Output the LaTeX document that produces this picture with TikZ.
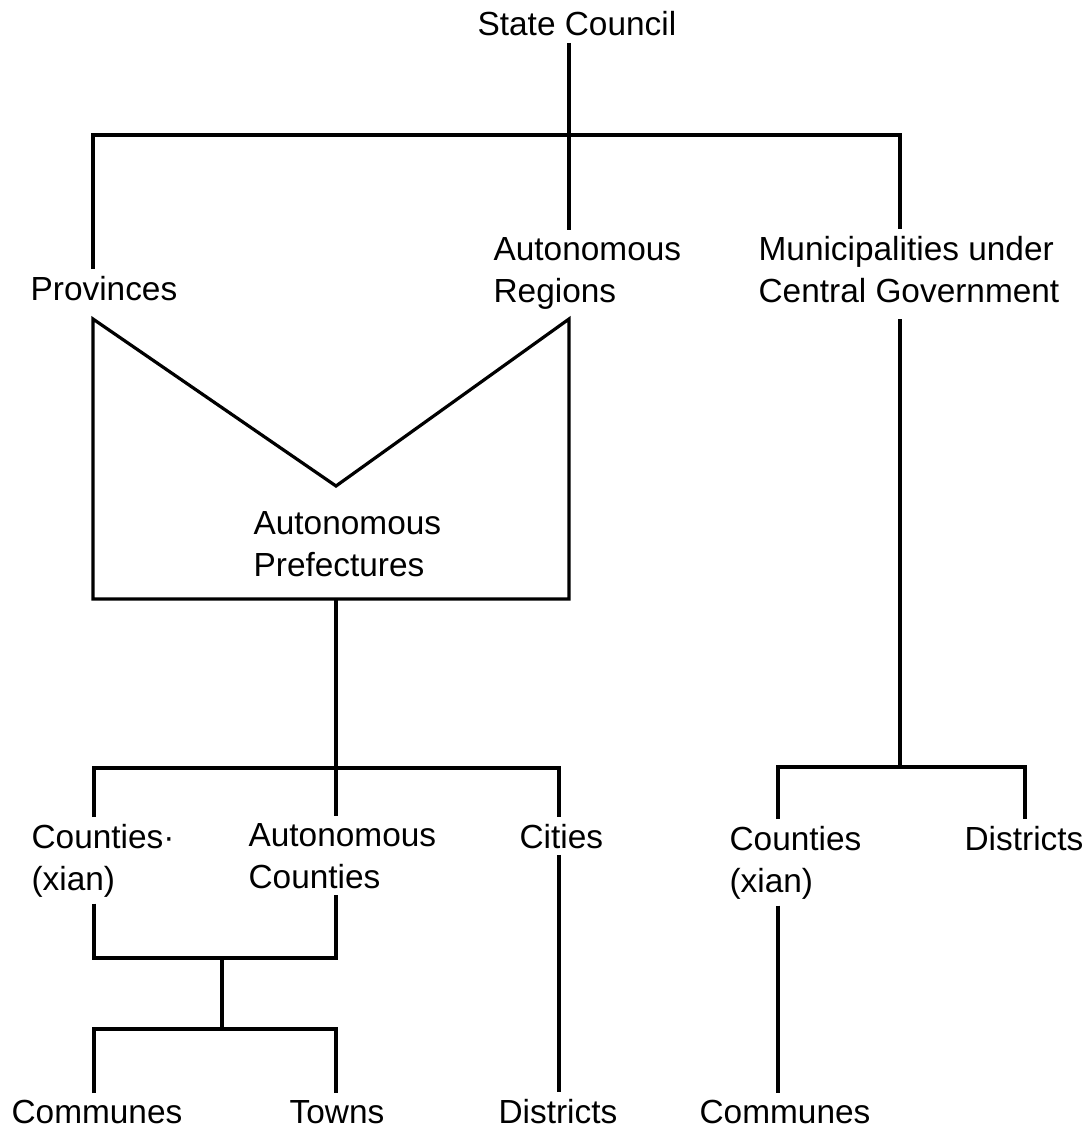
\documentclass[tikz,border=0pt]{standalone}
\usepackage{fontspec}
\setmainfont{Liberation Sans}
\usetikzlibrary{calc}

\begin{document}
\begin{tikzpicture}[x=0.5pt, y=-0.5pt, line width=1.6pt,
  every node/.style={font=\fontsize{16.7}{21}\selectfont, inner xsep=0pt, inner ysep=2.5pt, align=left, anchor=base west}]
  \useasboundingbox (0,0) rectangle (1090,1134);

  \node (sc) at (476,36) {State Council};
  \node (prov) at (29,300) {Provinces};
  \node (ar) at (492,302) {Autonomous\\Regions};
  \node (mun) at (757,302) {Municipalities under\\Central Government};

  \coordinate (top) at (569,135);
  \coordinate (left) at (93,135);
  \coordinate (right) at (900,135);

  \draw (sc.south -| top) -- (top);
  \draw (left |- prov.north) -- (left) -- (right) -- (right |- mun.north);
  \draw (top) -- (top |- ar.north);

  \coordinate (bTL) at (93,319);
  \coordinate (bTR) at (569,319);
  \coordinate (bBL) at (93,599);
  \coordinate (bBR) at (569,599);
  \coordinate (apex) at (336,486);
  \draw (bTL) -- (apex) -- (bTR) -- (bBR) -- (bBL) -- cycle;
  \node (ap) at (252,576) {Autonomous\\Prefectures};

  \coordinate (boxbot) at (336,599);
  \coordinate (mid) at (336,768);
  \coordinate (midL) at (94,768);
  \coordinate (midR) at (559,768);

  \node (cty) at (30,890) {Counties·\\(xian)};
  \node (acty) at (247,888) {Autonomous\\Counties};
  \node (cit) at (518,848) {Cities};

  \draw (boxbot) -- (mid);
  \draw (midL |- cty.north) -- (midL) -- (midR) -- (midR |- cit.north);
  \draw (mid) -- (mid |- acty.north);

  \coordinate (jc) at (222,958);
  \coordinate (jd) at (222,1029);

  \node (com) at (10,1123) {Communes};
  \node (town) at (288,1123) {Towns};
  \node (dis) at (497,1123) {Districts};

  \draw (midL |- cty.south) -- (midL |- jc) -- (mid |- jc) -- (mid |- acty.south);
  \draw (jc) -- (jd);
  \draw (midL |- com.north) -- (midL |- jd) -- (mid |- jd) -- (mid |- town.north);
  \draw (midR |- cit.south) -- (midR |- dis.north);

  \coordinate (rmid) at (900,767);
  \coordinate (rL) at (778,767);
  \coordinate (rR) at (1025,767);

  \node (cty2) at (728,892) {Counties\\(xian)};
  \node (dis2) at (963,850) {Districts};
  \node (com2) at (698,1123) {Communes};

  \draw (right |- bTR) -- (rmid);
  \draw (rL |- cty2.north) -- (rL) -- (rR) -- (rR |- dis2.north);
  \draw (rL |- cty2.south) -- (rL |- com2.north);
\end{tikzpicture}
\end{document}
